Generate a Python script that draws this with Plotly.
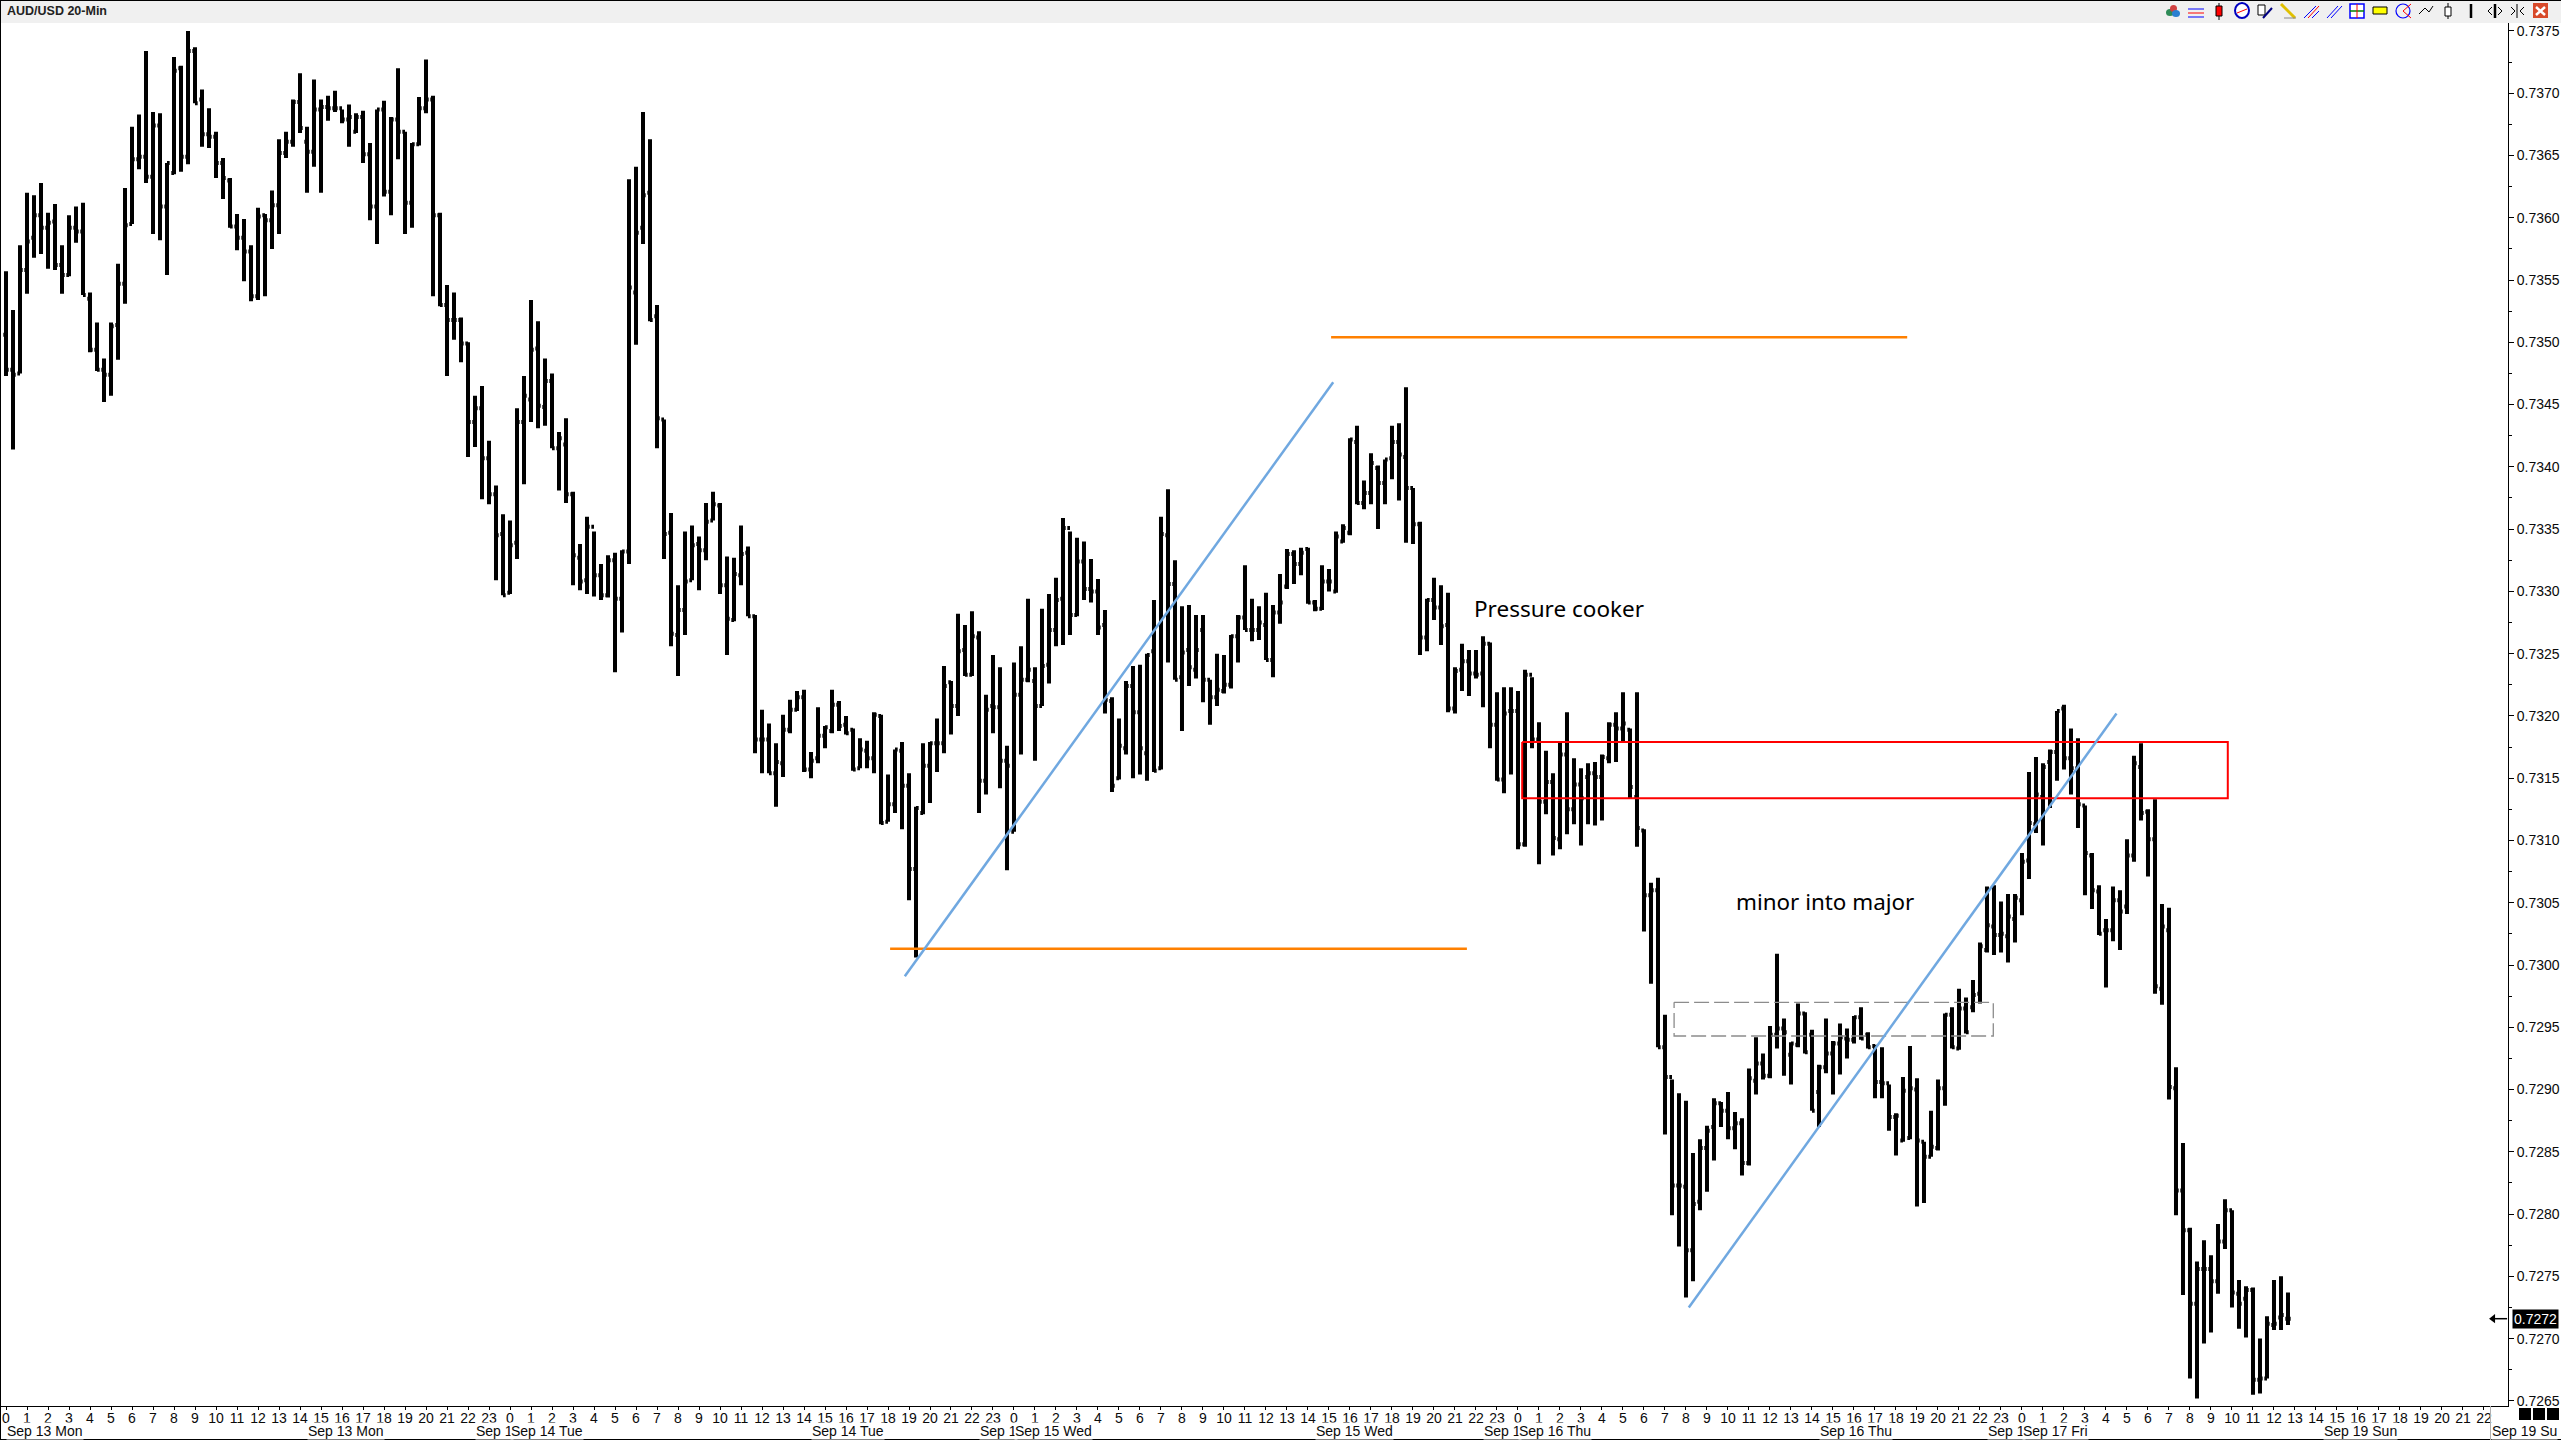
import plotly.graph_objects as go

# prices are in 1e-5 units (73557 = 0.73557), one entry per 20-minute bar
opens = [
    73506, 73478, 73475, 73558, 73584, 73602, 73592, 73597, 73562, 73554,
    73592, 73589, 73535, 73494, 73478, 73474, 73514, 73547, 73595, 73647,
    73649, 73633, 73674, 73609, 73636, 73720, 73649, 73734, 73695, 73667,
    73665, 73644, 73630, 73593, 73584, 73573, 73537, 73602, 73598, 73610,
    73652, 73661, 73693, 73661, 73653, 73687, 73689, 73688, 73688, 73679,
    73669, 73681, 73651, 73609, 73687, 73621, 73679, 73669, 73612, 73659,
    73688, 73695, 73602, 73530, 73518, 73518, 73499, 73436, 73447, 73407,
    73378, 73346, 73299, 73339, 73436, 73454, 73495, 73448, 73469, 73415,
    73418, 73378, 73327, 73309, 73352, 73313, 73297, 73325, 73294, 73332,
    73540, 73592, 73620, 73521, 73438, 73347, 73265, 73285, 73309, 73338,
    73333, 73357, 73369, 73305, 73277, 73313, 73331, 73280, 73181, 73181,
    73154, 73162, 73189, 73205, 73215, 73157, 73166, 73184, 73188, 73209,
    73193, 73189, 73158, 73172, 73166, 73200, 73115, 73129, 73172, 73144,
    73077, 73122, 73160, 73178, 73178, 73227, 73208, 73253, 73233, 73263,
    73148, 73208, 73207, 73164, 73107, 73217, 73229, 73228, 73208, 73241,
    73269, 73294, 73351, 73281, 73324, 73302, 73300, 73273, 73212, 73150,
    73174, 73224, 73203, 73170, 73252, 73158, 73345, 73306, 73231, 73253,
    73237, 73269, 73229, 73215, 73220, 73225, 73264, 73279, 73269, 73269,
    73273, 73245, 73283, 73304, 73330, 73322, 73334, 73291, 73286, 73308,
    73300, 73340, 73347, 73420, 73371, 73379, 73399, 73387, 73407, 73420,
    73408, 73383, 73354, 73263, 73293, 73287, 73273, 73206, 73237, 73244,
    73234, 73234, 73258, 73193, 73149, 73204, 73204, 73097, 73233, 73181,
    73131, 73147, 73101, 73169, 73125, 73145, 73151, 73154, 73151, 73166,
    73193, 73190, 73189, 73135, 73108, 73056, 73060, 72934, 72910, 72823,
    72822, 72771, 72810, 72853, 72870, 72889, 72883, 72869, 72873, 72841,
    72907, 72921, 72911, 72944, 72949, 72928, 72936, 72961, 72944, 72898,
    72918, 72929, 72937, 72941, 72940, 72958, 72944, 72935, 72906, 72905,
    72878, 72859, 72861, 72900, 72858, 72846, 72853, 72901, 72960, 72933,
    72965, 72966, 72977, 73012, 73031, 73024, 73023, 73037, 73052, 73084,
    73113, 73135, 73163, 73171, 73206, 73166, 73158, 73128, 73088, 73059,
    73028, 73028, 73052, 73047, 73088, 73159, 73123, 73101, 72981, 73028,
    72901, 72819, 72787, 72728, 72756, 72756, 72746, 72778, 72803, 72736,
    72732, 72739, 72667, 72668, 72711, 72717, 72716,
]
highs = [
    73557, 73526, 73578, 73620, 73618, 73628, 73604, 73611, 73578, 73602,
    73609, 73612, 73540, 73516, 73487, 73516, 73563, 73624, 73673, 73683,
    73734, 73685, 73684, 73644, 73729, 73722, 73750, 73737, 73703, 73688,
    73669, 73648, 73632, 73603, 73599, 73578, 73608, 73603, 73622, 73663,
    73669, 73695, 73716, 73673, 73711, 73695, 73698, 73702, 73687, 73691,
    73684, 73686, 73660, 73687, 73694, 73681, 73720, 73669, 73660, 73697,
    73727, 73698, 73604, 73546, 73540, 73520, 73500, 73457, 73465, 73421,
    73385, 73362, 73357, 73447, 73473, 73534, 73517, 73487, 73475, 73428,
    73439, 73380, 73338, 73360, 73348, 73322, 73329, 73331, 73333, 73631,
    73641, 73685, 73663, 73530, 73438, 73363, 73305, 73348, 73353, 73344,
    73371, 73380, 73371, 73328, 73327, 73353, 73336, 73281, 73205, 73194,
    73178, 73201, 73213, 73220, 73221, 73171, 73207, 73192, 73221, 73212,
    73200, 73190, 73182, 73180, 73203, 73201, 73153, 73173, 73179, 73154,
    73127, 73178, 73179, 73198, 73240, 73228, 73282, 73273, 73284, 73268,
    73217, 73249, 73239, 73176, 73243, 73256, 73294, 73239, 73286, 73298,
    73311, 73359, 73348, 73343, 73340, 73326, 73310, 73285, 73215, 73198,
    73228, 73240, 73241, 73250, 73293, 73360, 73382, 73325, 73288, 73289,
    73281, 73281, 73229, 73250, 73249, 73265, 73281, 73321, 73294, 73288,
    73299, 73289, 73314, 73334, 73333, 73335, 73335, 73293, 73321, 73318,
    73348, 73354, 73423, 73433, 73389, 73411, 73401, 73406, 73433, 73435,
    73464, 73383, 73356, 73294, 73311, 73305, 73299, 73239, 73258, 73253,
    73253, 73264, 73259, 73219, 73223, 73223, 73220, 73237, 73231, 73195,
    73172, 73154, 73179, 73203, 73166, 73158, 73162, 73163, 73169, 73195,
    73203, 73219, 73190, 73219, 73109, 73066, 73070, 72960, 72908, 72897,
    72891, 72849, 72860, 72871, 72893, 72890, 72898, 72882, 72877, 72917,
    72942, 72929, 72951, 73009, 72957, 72938, 72969, 72962, 72948, 72920,
    72957, 72939, 72953, 72949, 72959, 72966, 72946, 72936, 72934, 72904,
    72881, 72910, 72935, 72909, 72858, 72883, 72908, 72961, 72966, 72981,
    72974, 72988, 73018, 73063, 73064, 73051, 73057, 73057, 73090, 73155,
    73167, 73162, 73173, 73204, 73209, 73190, 73182, 73128, 73090, 73064,
    73037, 73063, 73060, 73101, 73168, 73178, 73125, 73133, 73049, 73046,
    72918, 72857, 72789, 72762, 72779, 72767, 72792, 72812, 72803, 72747,
    72742, 72741, 72700, 72718, 72747, 72750, 72737,
]
lows = [
    73473, 73414, 73475, 73539, 73568, 73571, 73559, 73558, 73539, 73553,
    73580, 73538, 73492, 73477, 73452, 73457, 73486, 73531, 73595, 73639,
    73628, 73587, 73582, 73554, 73635, 73637, 73643, 73692, 73657, 73656,
    73632, 73615, 73592, 73574, 73549, 73533, 73534, 73537, 73575, 73587,
    73648, 73657, 73668, 73620, 73641, 73620, 73678, 73685, 73676, 73657,
    73668, 73644, 73598, 73579, 73617, 73602, 73647, 73587, 73592, 73658,
    73684, 73537, 73529, 73473, 73502, 73484, 73408, 73416, 73374, 73370,
    73309, 73297, 73298, 73326, 73386, 73436, 73431, 73433, 73415, 73381,
    73371, 73305, 73301, 73298, 73296, 73293, 73295, 73235, 73267, 73322,
    73498, 73579, 73517, 73415, 73326, 73256, 73232, 73265, 73309, 73301,
    73325, 73357, 73298, 73249, 73276, 73305, 73280, 73170, 73154, 73154,
    73127, 73151, 73186, 73204, 73155, 73150, 73162, 73174, 73186, 73188,
    73185, 73156, 73158, 73158, 73154, 73113, 73115, 73122, 73109, 73052,
    73006, 73121, 73130, 73155, 73170, 73185, 73200, 73232, 73232, 73122,
    73137, 73186, 73142, 73076, 73107, 73169, 73227, 73164, 73208, 73226,
    73256, 73257, 73265, 73280, 73293, 73291, 73265, 73202, 73139, 73149,
    73169, 73150, 73153, 73148, 73155, 73157, 73243, 73229, 73188, 73224,
    73230, 73211, 73193, 73208, 73218, 73222, 73243, 73269, 73260, 73261,
    73245, 73231, 73274, 73302, 73306, 73313, 73290, 73284, 73285, 73300,
    73299, 73339, 73345, 73370, 73366, 73370, 73350, 73370, 73390, 73373,
    73339, 73338, 73249, 73252, 73277, 73257, 73203, 73202, 73220, 73216,
    73230, 73207, 73174, 73148, 73138, 73153, 73093, 73095, 73174, 73081,
    73121, 73088, 73093, 73105, 73113, 73096, 73113, 73112, 73116, 73162,
    73163, 73179, 73134, 73095, 73027, 72985, 72934, 72864, 72799, 72774,
    72733, 72746, 72803, 72818, 72843, 72870, 72860, 72852, 72831, 72839,
    72896, 72908, 72909, 72933, 72911, 72904, 72934, 72929, 72883, 72870,
    72913, 72896, 72912, 72925, 72937, 72940, 72933, 72893, 72893, 72867,
    72847, 72858, 72860, 72806, 72809, 72846, 72851, 72887, 72933, 72932,
    72945, 72962, 72969, 73010, 73008, 73010, 73002, 73018, 73040, 73069,
    73106, 73096, 73126, 73148, 73157, 73137, 73110, 73056, 73045, 73024,
    72982, 73019, 73012, 73041, 73083, 73116, 73071, 72977, 72968, 72892,
    72799, 72735, 72668, 72652, 72696, 72705, 72736, 72772, 72725, 72708,
    72701, 72655, 72656, 72668, 72707, 72707, 72711,
]
closes = [
    73478, 73474, 73558, 73581, 73602, 73592, 73596, 73562, 73554, 73592,
    73589, 73538, 73494, 73478, 73474, 73513, 73547, 73594, 73647, 73649,
    73633, 73674, 73609, 73644, 73718, 73649, 73734, 73692, 73667, 73665,
    73644, 73632, 73593, 73584, 73573, 73537, 73601, 73598, 73610, 73652,
    73661, 73693, 73672, 73653, 73687, 73689, 73688, 73688, 73679, 73681,
    73681, 73651, 73609, 73687, 73621, 73679, 73669, 73612, 73659, 73688,
    73695, 73602, 73530, 73518, 73518, 73499, 73436, 73447, 73407, 73378,
    73345, 73297, 73337, 73436, 73457, 73494, 73449, 73469, 73415, 73423,
    73378, 73329, 73308, 73352, 73313, 73297, 73325, 73294, 73332, 73544,
    73588, 73618, 73518, 73439, 73346, 73266, 73285, 73308, 73337, 73333,
    73356, 73370, 73305, 73278, 73314, 73330, 73280, 73181, 73181, 73154,
    73163, 73189, 73205, 73215, 73157, 73164, 73184, 73191, 73209, 73192,
    73186, 73157, 73173, 73166, 73201, 73114, 73129, 73173, 73144, 73077,
    73126, 73160, 73178, 73178, 73224, 73208, 73252, 73233, 73264, 73148,
    73205, 73207, 73164, 73160, 73217, 73229, 73237, 73208, 73240, 73269,
    73293, 73351, 73281, 73324, 73302, 73300, 73271, 73213, 73144, 73176,
    73224, 73203, 73174, 73249, 73156, 73346, 73306, 73229, 73251, 73239,
    73253, 73229, 73215, 73221, 73225, 73264, 73279, 73269, 73269, 73275,
    73245, 73283, 73291, 73330, 73322, 73331, 73291, 73286, 73308, 73308,
    73344, 73351, 73422, 73371, 73379, 73403, 73387, 73406, 73420, 73410,
    73383, 73354, 73263, 73293, 73287, 73272, 73206, 73236, 73244, 73234,
    73233, 73258, 73193, 73149, 73202, 73204, 73097, 73233, 73181, 73131,
    73147, 73102, 73169, 73125, 73145, 73134, 73154, 73151, 73167, 73193,
    73190, 73194, 73143, 73110, 73056, 73060, 72934, 72910, 72823, 72823,
    72771, 72808, 72853, 72867, 72889, 72883, 72869, 72873, 72841, 72909,
    72921, 72911, 72944, 72949, 72946, 72937, 72961, 72930, 72883, 72918,
    72929, 72937, 72942, 72940, 72958, 72941, 72934, 72906, 72905, 72878,
    72879, 72899, 72901, 72859, 72846, 72854, 72901, 72960, 72934, 72965,
    72946, 72976, 73015, 73032, 73024, 73025, 73039, 73054, 73083, 73114,
    73137, 73159, 73171, 73204, 73166, 73158, 73129, 73090, 73060, 73025,
    73028, 73052, 73043, 73088, 73162, 73122, 73101, 72983, 73031, 72902,
    72819, 72787, 72728, 72756, 72756, 72746, 72778, 72803, 72737, 72728,
    72739, 72667, 72668, 72712, 72712, 72719, 72716,
]

hour_labels = [str(h) for d in range(4) for h in range(24)] + [str(h) for h in range(23)]
date_labels = [
    "Sep 13 Mon", "Sep 13 Mon", "Sep 1", "Sep 14 Tue", "Sep 14 Tue", "Sep 1", "Sep 15 Wed",
    "Sep 15 Wed", "Sep 1", "Sep 16 Thu", "Sep 16 Thu", "Sep 1", "Sep 17 Fri", "Sep 19 Sun", "Sep 19 Su",
]
date_label_bars = [0, 43, 67, 72, 115, 139, 144, 187, 211, 216, 259, 283, 288, 331, 355]
last_price = 72716

# drawn studies, x in bar numbers, y in 1e-5 price units
orange_high_x, orange_high_y = [189.3, 271.6], [73504, 73504]
orange_low_x, orange_low_y = [126.3, 208.7], [73013, 73013]
blue_one_x, blue_one_y = [128.4, 189.6], [72991, 73468]
blue_two_x, blue_two_y = [240.4, 301.5], [72725, 73202]
red_box_x, red_box_y = [216.6, 317.4, 317.4, 216.6, 216.6], [73179, 73179, 73134, 73134, 73179]
grey_box_x, grey_box_y = [238.3, 283.9, 283.9, 238.3, 238.3], [72970, 72970, 72943, 72943, 72970]
marker_x, marker_y = [355.3, 357.3], [last_price, last_price]

WIDTH, HEIGHT = 2561, 1440
LEFT, RIGHT, TOP, BOTTOM = 1, 53, 23, 34
TEXT = "#0a0a0a"


def price(values):
    return [v / 1e5 for v in values]


def px(x):
    return (x - LEFT) / (WIDTH - LEFT - RIGHT)


def py(y):
    return 1 - (y - TOP) / (HEIGHT - TOP - BOTTOM)


def box(x0, y0, x1, y1, fill="rgba(0,0,0,0)", line="rgba(0,0,0,0)", width=1, kind="rect"):
    return dict(type=kind, xref="paper", yref="paper", x0=px(x0), x1=px(x1), y0=py(y0), y1=py(y1),
                fillcolor=fill, line=dict(color=line, width=width), layer="above")


def seg(x0, y0, x1, y1, color, width=1):
    return dict(type="line", xref="paper", yref="paper", x0=px(x0), x1=px(x1), y0=py(y0), y1=py(y1),
                line=dict(color=color, width=width), layer="above")


fig = go.Figure()


def add_line(x, y, color, width, dash="solid"):
    fig.add_trace(go.Scatter(x=x, y=price(y), mode="lines", line=dict(color=color, width=width, dash=dash),
                             hoverinfo="skip", showlegend=False))


add_line(orange_high_x, orange_high_y, "#ff8000", 2.5)
add_line(orange_low_x, orange_low_y, "#ff8000", 2.5)
add_line(red_box_x, red_box_y, "#ff0000", 2)
add_line(grey_box_x, grey_box_y, "#8c8c8c", 1.3, "15px,5px")
add_line(blue_one_x, blue_one_y, "#70a8e0", 2.5)
add_line(blue_two_x, blue_two_y, "#70a8e0", 2.5)

bar_style = dict(line=dict(color="#000000", width=4))
fig.add_trace(go.Ohlc(
    x=list(range(len(closes))),
    open=price(opens), high=price(highs), low=price(lows), close=price(closes),
    increasing=bar_style, decreasing=bar_style, tickwidth=0.38, showlegend=False,
))

# last price marker next to the axis
add_line(marker_x, marker_y, "#000000", 1.5)
fig.add_trace(go.Scatter(x=marker_x[:1], y=price(marker_y[:1]), mode="markers", cliponaxis=False, hoverinfo="skip",
                         marker=dict(symbol="triangle-left", size=8, color="#000000"), showlegend=False))

annotations = [
    dict(x=209.45, y=0.73286, text="Pressure cooker", xanchor="left", yanchor="middle", showarrow=False,
         font=dict(family="Noto Sans", size=22.5, color="#000000")),
    dict(x=246.85, y=0.73051, text="minor into major", xanchor="left", yanchor="middle", showarrow=False,
         font=dict(family="Noto Sans", size=22.4, color="#000000")),
    dict(xref="paper", yref="paper", x=px(5), y=py(11), text="<b>AUD/USD 20-Min</b>", xanchor="left", yanchor="middle",
         showarrow=False, font=dict(family="Liberation Sans", size=12.5, color="#222222")),
    dict(xref="paper", yref="y", x=px(2512), y=last_price / 1e5, text="0.7272", xanchor="left", yanchor="middle",
         showarrow=False, bgcolor="#000000", borderpad=1, font=dict(family="Liberation Sans", size=14, color="#ffffff")),
]
for label, bar in zip(date_labels, date_label_bars):
    annotations.append(dict(x=bar, xref="x", yref="paper", y=py(1431), text=label, xanchor="left", yanchor="middle",
                            showarrow=False, bgcolor="#ffffff", borderpad=0,
                            font=dict(family="Liberation Sans", size=14, color=TEXT)))

shapes = [
    box(0, 0, WIDTH, 23, fill="#f0f0f0"),
    seg(0, 0.5, WIDTH, 0.5, "#000000"),
    seg(0.5, 0, 0.5, HEIGHT, "#000000"),
    seg(0, 1439.5, WIDTH, 1439.5, "#000000"),
    seg(2490.5, 1406, 2490.5, 1440, "#b0b0b0"),
    box(2519, 1408, 2531, 1420, fill="#000000"),
    box(2533, 1408, 2545, 1420, fill="#000000"),
    box(2547, 1408, 2559, 1420, fill="#000000"),
]
# toolbar icons along the top strip
tb = 2100
shapes += [
    box(tb + 66, 9, tb + 74, 16, fill="#2e8b57", kind="circle"),
    box(tb + 70, 5, tb + 77, 12, fill="#d04040", kind="circle"),
    box(tb + 72, 10, tb + 80, 17, fill="#2a7fd0", kind="circle"),
    seg(tb + 88, 9, tb + 104, 9, "#0000ff"), seg(tb + 88, 13, tb + 104, 13, "#ff0000"), seg(tb + 88, 17, tb + 104, 17, "#0000ff"),
    seg(tb + 119, 3, tb + 119, 20, "#000000", 1),
    box(tb + 116, 6, tb + 122, 16, fill="#ff0000", line="#000000"),
    box(tb + 135, 3, tb + 149, 18, fill="#ffffff", line="#0000c0", width=2, kind="circle"),
    seg(tb + 137, 13, tb + 147, 9, "#ff0000"),
    box(tb + 158, 5, tb + 165, 15, fill="#ffffff", line="#000000"),
    seg(tb + 163, 18, tb + 172, 8, "#000080", 2),
    seg(tb + 181, 4, tb + 195, 18, "#e0c000", 3), seg(tb + 184, 18, tb + 196, 18, "#888888"),
    seg(tb + 204, 18, tb + 216, 6, "#0000ff"), seg(tb + 208, 18, tb + 219, 6, "#ff0000"), seg(tb + 212, 18, tb + 219, 11, "#0000ff"),
    seg(tb + 227, 18, tb + 238, 6, "#0000ff"), seg(tb + 231, 18, tb + 242, 6, "#0000ff"),
    box(tb + 250, 4, tb + 264, 18, fill="#ffffff", line="#0000ff", width=1.5),
    seg(tb + 250, 11, tb + 264, 11, "#008000", 1.5), seg(tb + 257, 4, tb + 257, 18, "#ff0000"),
    box(tb + 273, 7, tb + 287, 14, fill="#ffff00", line="#000000"),
    box(tb + 296, 4, tb + 310, 18, line="#0000ff", width=1.2, kind="circle"),
    seg(tb + 303, 11, tb + 311, 4, "#ff0000"), seg(tb + 303, 11, tb + 311, 18, "#ff0000"),
    seg(tb + 319, 14, tb + 325, 8, "#000000"), seg(tb + 325, 8, tb + 329, 12, "#000000"), seg(tb + 329, 12, tb + 333, 6, "#000000"),
    seg(tb + 348, 3, tb + 348, 19, "#000000"), box(tb + 345, 7, tb + 351, 16, fill="#ffffff", line="#000000"),
    seg(tb + 371, 4, tb + 371, 18, "#000000", 2.5),
    seg(tb + 395, 4, tb + 395, 18, "#000000", 2.5),
    seg(tb + 388, 11, tb + 392, 7, "#000000"), seg(tb + 388, 11, tb + 392, 15, "#000000"),
    seg(tb + 402, 11, tb + 398, 7, "#000000"), seg(tb + 402, 11, tb + 398, 15, "#000000"),
    seg(tb + 417, 4, tb + 417, 18, "#000000"),
    seg(tb + 411, 7, tb + 415, 11, "#000000"), seg(tb + 411, 15, tb + 415, 11, "#000000"),
    seg(tb + 424, 7, tb + 420, 11, "#000000"), seg(tb + 424, 15, tb + 420, 11, "#000000"),
    box(tb + 433, 3, tb + 448, 18, fill="#d84a2a"),
    seg(tb + 436, 7, tb + 445, 15, "#ffffff", 2.5), seg(tb + 445, 7, tb + 436, 15, "#ffffff", 2.5),
]

fig.update_layout(
    width=WIDTH, height=HEIGHT,
    margin=dict(l=LEFT, r=RIGHT, t=TOP, b=BOTTOM, pad=0),
    paper_bgcolor="#ffffff", plot_bgcolor="#ffffff",
    dragmode=False, hovermode=False, showlegend=False,
    annotations=annotations, shapes=shapes,
    font=dict(family="Liberation Sans", size=14, color=TEXT),
)
fig.update_xaxes(
    range=[-0.714, 357.43], rangeslider_visible=False, showgrid=False, zeroline=False,
    showline=True, linecolor="#000000", linewidth=1,
    tickmode="array", tickvals=[3 * i for i in range(len(hour_labels))], ticktext=hour_labels,
    ticks="outside", ticklen=3, tickcolor="#000000", tickangle=0, tickfont=dict(size=14, color=TEXT),
    ticklabelstandoff=-4,
)
fig.update_yaxes(
    range=[0.726459, 0.737564], side="right", showgrid=False, zeroline=False,
    showline=True, linecolor="#000000", linewidth=1,
    tick0=0.7265, dtick=0.0005, tickformat=".4f", ticks="outside", ticklen=5, tickcolor="#000000",
    tickfont=dict(size=14, color=TEXT),
    minor=dict(ticks="outside", ticklen=3, tickcolor="#000000", tick0=0.7265, dtick=0.00025, showgrid=False),
)

fig.write_html("out.html", config={"displayModeBar": False}, post_script="document.body.style.margin='0';")
